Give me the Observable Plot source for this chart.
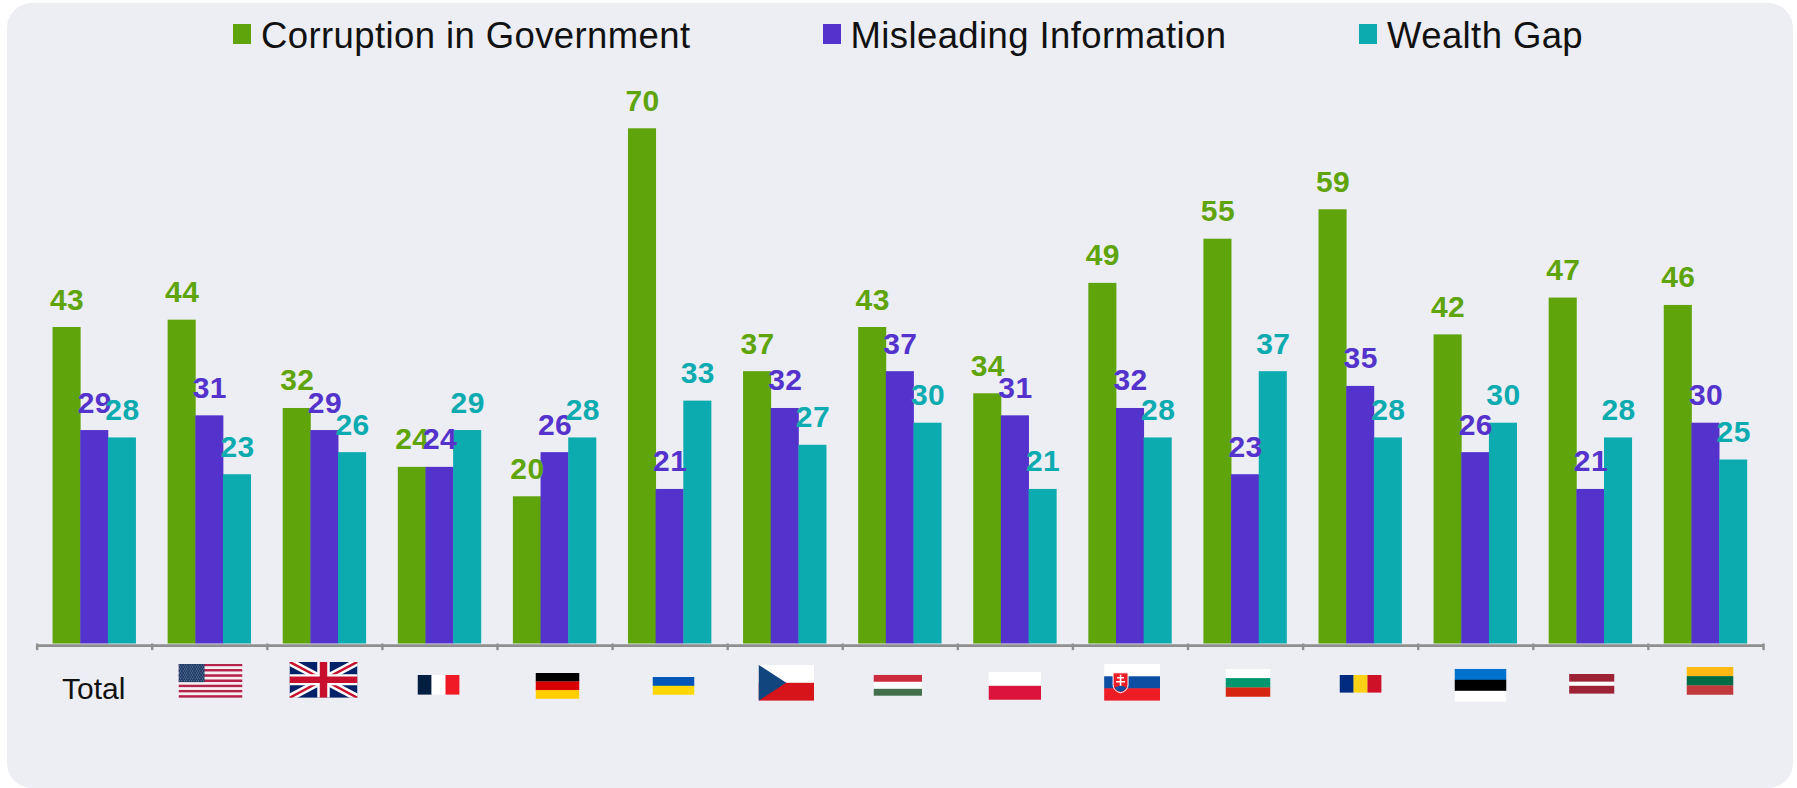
<!DOCTYPE html>
<html>
<head>
<meta charset="utf-8">
<script src="https://cdn.jsdelivr.net/npm/d3@7"></script>
<script src="https://cdn.jsdelivr.net/npm/@observablehq/plot@0.6"></script>
<style>
html,body{margin:0;padding:0;background:#fff;overflow:hidden}
#page{position:relative;width:1797px;height:788px;font-family:"Liberation Sans",Arial,sans-serif}
#panel{position:absolute;left:7px;top:3px;width:1786px;height:785px;background:#edeef4;border-radius:25px}
#chart{position:absolute;left:0;top:0}
.lg{position:absolute;top:24px;display:flex;align-items:flex-start;font-size:36.5px;line-height:1;color:#111;white-space:nowrap}
.lg i{display:block;width:18px;height:20px;margin-right:10px;flex:none}
.lg span{display:block;margin-top:-6px;letter-spacing:.4px}
</style>
</head>
<body>
<div id="page"><div id="panel"></div><div id="chart"></div></div>
<script>
const countries = ["Total","United States","United Kingdom","France","Germany","Ukraine","Czech Republic","Hungary","Poland","Slovakia","Bulgaria","Romania","Estonia","Latvia","Lithuania"];
const seriesNames = ["Corruption in Government","Misleading Information","Wealth Gap"];
const corruption = [43,44,32,24,20,70,37,43,34,49,55,59,42,47,46];
const misleading = [29,31,29,24,26,21,32,37,31,32,23,35,26,21,30];
const wealthGap  = [28,23,26,29,28,33,27,30,21,28,37,28,30,28,25];
const colors = ["#5ea40a","#5433cc","#0cabb0"];

const rows = [];
[corruption,misleading,wealthGap].forEach((vals,s)=>vals.forEach((v,i)=>rows.push({country:countries[i],series:seriesNames[s],value:v})));

// flag artwork
const stripesH = (cols)=>cols.map((c,i)=>`<rect x="0" y="${i}" width="1" height="1.02" fill="${c}"/>`).join("");
function flagSvg(vw,vh,body){
  return "data:image/svg+xml;utf8,"+encodeURIComponent(`<svg xmlns="http://www.w3.org/2000/svg" viewBox="0 0 ${vw} ${vh}" preserveAspectRatio="none">${body}</svg>`);
}
function h3(a,b,c){return flagSvg(1,3,stripesH([a,b,c]));}
function v3(a,b,c){return flagSvg(3,1,[a,b,c].map((k,i)=>`<rect x="${i}" y="0" width="1.02" height="1" fill="${k}"/>`).join(""));}
function usFlag(){
  let s="";
  for(let i=0;i<13;i++) s+=`<rect x="0" y="${i}" width="64" height="1.02" fill="${i%2?"#f6f0f2":"#b5224a"}"/>`;
  s+=`<rect x="0" y="0" width="26" height="7" fill="#203d68"/>`;
  for(let r=0;r<9;r++) for(let c=0;c<(r%2?10:11);c++) s+=`<circle cx="${(r%2?2.2:1)+c*2.4}" cy="${.5+r*.75}" r=".28" fill="#aab8cb"/>`;
  return flagSvg(64,13,s);
}
function ukFlag(){
  return flagSvg(60,36,`<rect width="60" height="36" fill="#012169"/>
  <path d="M0 0L60 36M60 0L0 36" stroke="#fff" stroke-width="7.2"/>
  <path d="M0 0L30 18M60 36L30 18M60 0L30 18M0 36L30 18" stroke="#c8102e" stroke-width="2.4"/>
  <path d="M30 0V36M0 18H60" stroke="#fff" stroke-width="11"/>
  <path d="M30 0V36M0 18H60" stroke="#c8102e" stroke-width="6.6"/>`);
}
function czFlag(){
  return flagSvg(3,2,`<rect width="3" height="1" fill="#fff"/><rect y="1" width="3" height="1" fill="#d7141a"/><path d="M0 0L1.5 1L0 2Z" fill="#11457e"/>`);
}
function skFlag(){
  return flagSvg(56,37,`<rect width="56" height="12.5" fill="#fff"/><rect y="12.5" width="56" height="12.5" fill="#0b4ea2"/><rect y="24.5" width="56" height="12.5" fill="#ee1c25"/>
  <path d="M9 9H24V21Q24 27 16.5 29Q9 27 9 21Z" fill="#ee1c25" stroke="#fff" stroke-width="1"/>
  <path d="M16.5 11V23M13 14H20M12 18H21" stroke="#fff" stroke-width="1.6"/>
  <path d="M10.5 24Q16.5 20 22.5 24Q20 27.5 16.5 28Q13 27.5 10.5 24Z" fill="#0b4ea2"/>`);
}
function eeFlag(){return h3("#0072ce","#000","#fff");}

const flagArt = {
  "United States":usFlag(),"United Kingdom":ukFlag(),"France":v3("#041e42","#fff","#ef1a25"),
  "Germany":h3("#000","#d80000","#ffce00"),
  "Ukraine":flagSvg(1,2,stripesH(["#0057b7","#ffd700"])),
  "Czech Republic":czFlag(),"Hungary":h3("#cd2a3e","#fff","#436f4d"),
  "Poland":flagSvg(1,2,stripesH(["#fff","#dc143c"])),
  "Slovakia":skFlag(),"Bulgaria":h3("#fff","#00966e","#d62612"),"Romania":v3("#002b7f","#fcd116","#ce1126"),
  "Estonia":eeFlag(),
  "Latvia":flagSvg(5,5,`<rect width="5" height="2" fill="#9e2236"/><rect y="2" width="5" height="1" fill="#fff"/><rect y="3" width="5" height="2" fill="#9e2236"/>`),
  "Lithuania":h3("#fdb913","#006a44","#c1393a")
};
// pixel box of every flag: left, top, right, bottom
const flagBoxes = {
  "United States":[178,664,242,698],"United Kingdom":[289,662,357,698],"France":[417,675,459,695],
  "Germany":[535,673,579,699],"Ukraine":[652,677,694,695],"Czech Republic":[758,665,813.5,701],
  "Hungary":[873,675,921.5,696],"Poland":[988,672,1040.5,700],"Slovakia":[1103.6,664,1159.5,701],
  "Bulgaria":[1225,669,1270,697],"Romania":[1339,675,1381,693],"Estonia":[1454,669,1506,702],
  "Latvia":[1568.6,674,1614,694],"Lithuania":[1686,667,1733,695]
};
const mL = 36.7, mR = 34, step = (1797-mL-mR)/countries.length;

const flagMarks = Object.keys(flagBoxes).map(name=>{
  const [l,t,r,b] = flagBoxes[name];
  const center = mL + step*(countries.indexOf(name)+.5);
  return Plot.image([name],{
    fx:d=>d, frameAnchor:"top",
    src:d=>flagArt[d], width:r-l, height:b-t,
    dx:(l+r)/2-center, dy:(t+b)/2-.7,
    preserveAspectRatio:"none"
  });
});

const offset = 16.1+13.83;
const chart = Plot.plot({
  width:1797, height:788,
  marginLeft:mL, marginRight:mR, marginTop:0, marginBottom:0,
  style:{background:"transparent",fontFamily:"'Liberation Sans',Arial,sans-serif"},
  fx:{domain:countries,padding:0,round:false,axis:null,label:null},
  x:{domain:seriesNames,paddingInner:0,paddingOuter:.58,round:false,axis:null,label:null},
  y:{domain:[0,70],range:[643.5,128.3],axis:null,label:null},
  color:{domain:seriesNames,range:colors},
  marks:[
    Plot.barY(rows,{fx:"country",x:"series",y:"value",fill:"series",insetLeft:-.2,insetRight:-.2}),
    Plot.ruleY([0],{stroke:"#8f8f8f",strokeWidth:2.8,dy:1.6}),
    Plot.ruleX(countries,{fx:d=>d,x:()=>seriesNames[0],y1:()=>0,y2:()=>-.9,dx:-offset,stroke:"#8f8f8f",strokeWidth:2.4}),
    Plot.ruleX(countries.slice(-1),{fx:d=>d,x:()=>seriesNames[2],y1:()=>0,y2:()=>-.9,dx:offset,stroke:"#8f8f8f",strokeWidth:2.4}),
    Plot.text(rows,{fx:"country",x:"series",y:"value",text:d=>String(d.value),fill:"series",fontSize:30,fontWeight:"bold",lineAnchor:"bottom",dy:-18,
      render(index,scales,values,dims,ctx,next){const g=next(index,scales,values,dims,ctx);g.setAttribute("letter-spacing",".4px");return g;}}),
    Plot.text(["Total"],{fx:d=>d,frameAnchor:"top",text:d=>d,fontSize:30,fill:"#111",lineAnchor:"bottom",dy:698,dx:-1}),
    ...flagMarks
  ]
});
document.getElementById("chart").appendChild(chart);

const lefts=[233,822.5,1359];
seriesNames.forEach((n,i)=>{
  const d=document.createElement("div");d.className="lg";d.style.left=lefts[i]+"px";
  const sw=document.createElement("i");sw.style.background=colors[i];
  const sp=document.createElement("span");sp.textContent=n;
  d.append(sw,sp);document.getElementById("page").appendChild(d);
});
</script>
</body>
</html>
